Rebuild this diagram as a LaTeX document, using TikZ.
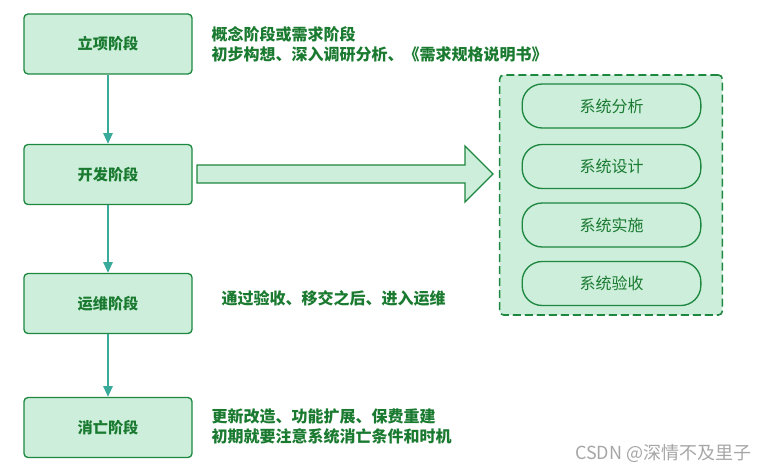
\documentclass[tikz,border=0pt]{standalone}
\usepackage{fontspec}
\setmainfont{Noto Sans CJK SC}
\usetikzlibrary{arrows.meta}
\definecolor{boxfill}{HTML}{CCEEDB}
\definecolor{boxline}{HTML}{1E8740}
\definecolor{txtgreen}{HTML}{1A7A30}
\definecolor{flowteal}{HTML}{3AAB9B}
\tikzset{
  stage/.style={draw=boxline, fill=boxfill, line width=1pt, rounded corners=3pt,
    minimum width=126pt, minimum height=45pt, text=txtgreen,
    font=\fontsize{11.4}{15}\selectfont\bfseries},
  pill/.style={draw=boxline, fill=boxfill, line width=1pt, rounded corners=15pt,
    minimum width=134pt, minimum height=33pt, text=txtgreen,
    font=\fontsize{12}{15}\selectfont},
  note/.style={anchor=west, align=left, text=txtgreen,
    font=\fontsize{12}{15}\selectfont\bfseries},
}
\begin{document}
\begin{tikzpicture}[x=0.75pt, y=-0.75pt, >={Triangle[length=8pt,width=7pt]}]
  \useasboundingbox (0,0) rectangle (766,471);
  % stages
  \node (lixiang) [stage] at (108,44) {立项阶段};
  \node (kaifa) [stage] at (108,174.5) {开发阶段};
  \node (yunwei) [stage] at (108,303.5) {运维阶段};
  \node (xiaowang) [stage] at (108,427.5) {消亡阶段};
  \draw[->, flowteal, line width=1.2pt] (lixiang) -- (kaifa);
  \draw[->, flowteal, line width=1.2pt] (kaifa) -- (yunwei);
  \draw[->, flowteal, line width=1.2pt] (yunwei) -- (xiaowang);
  % notes
  \node (n1) [note] at (207,44) {概念阶段或需求阶段\\初步构想、深入调研分析、《需求规格说明书》};
  \node (n3) [note] at (217,298) {通过验收、移交之后、进入运维};
  \node (n4) [note] at (207,426) {更新改造、功能扩展、保费重建\\初期就要注意系统消亡条件和时机};
  % big arrow
  \draw[draw=boxline, fill=boxfill, line width=1pt, line join=miter]
    (197,165) -- (465,165) -- (465,146) -- (493,174) -- (465,202) -- (465,183) -- (197,183) -- cycle;
  % dev box
  \node (group) [draw=boxline, fill=boxfill, dashed, dash pattern=on 6pt off 3pt,
    line width=1.2pt, rounded corners=3pt, minimum width=167pt, minimum height=180pt]
    at (611,195) {};
  \node (fenxi) [pill] at (611.5,106) {系统分析};
  \node (sheji) [pill] at (611.5,166.5) {系统设计};
  \node (shishi) [pill] at (611.5,225) {系统实施};
  \node (yanshou) [pill] at (611.5,283.5) {系统验收};
  % watermark
  \node (mark) [anchor=east, text=gray!70, font=\fontsize{13.5}{15}\selectfont] at (756,453) {CSDN @深情不及里子};
\end{tikzpicture}
\end{document}
